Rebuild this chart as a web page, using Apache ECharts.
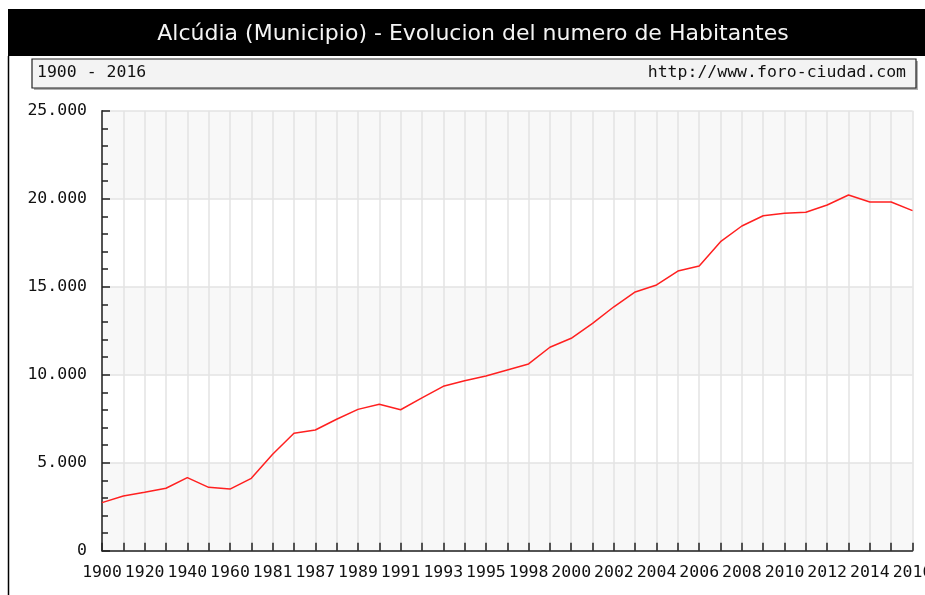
<!DOCTYPE html>
<html>
<head>
<meta charset="utf-8">
<script src="https://cdn.jsdelivr.net/npm/echarts@6/dist/echarts.min.js"></script>
<style>
  html, body { margin: 0; padding: 0; background: #fff; }
  #main { width: 925px; height: 595px; }
</style>
</head>
<body>
<div id="main"></div>
<script>
// years (uneven steps, as in the source)
var years = ['1900', '1910', '1920', '1930', '1940', '1950', '1960', '1970', '1981', '1986',
    '1987', '1988', '1989', '1990', '1991', '1992', '1993', '1994', '1995', '1996',
    '1998', '1999', '2000', '2001', '2002', '2003', '2004', '2005', '2006', '2007',
    '2008', '2009', '2010', '2011', '2012', '2013', '2014', '2015', '2016'];
// habitantes
var habitantes = [2730, 3110, 3320, 3550, 4150, 3600, 3500, 4110, 5480, 6670,
    6860, 7470, 8030, 8320, 8010, 8680, 9340, 9660, 9930, 10270,
    10610, 11560, 12070, 12920, 13860, 14700, 15100, 15890, 16180, 17560,
    18450, 19030, 19170, 19230, 19640, 20210, 19810, 19810, 19320];

var titulo = 'Alcúdia (Municipio) - Evolucion del numero de Habitantes';
var periodo = '1900 - 2016';
var fuente = 'http://www.foro-ciudad.com';

var mono = '"DejaVu Sans Mono", monospace';

var chart = echarts.init(document.getElementById('main'));

function miles(v) {
    if (v === 0) return '0';
    var s = String(v);
    return s.slice(0, s.length - 3) + '.' + s.slice(-3);
}

var option = {
    animation: false,
    backgroundColor: '#fff',
    grid: { left: 102, right: 12.5, top: 110.7, bottom: 44.3, outerBoundsMode: 'none', containLabel: false },
    graphic: [
        { type: 'rect', shape: { x: 8, y: 9, width: 917, height: 47 }, style: { fill: '#000' } },
        { type: 'text', x: 473, y: 23,
          style: { text: titulo, fill: '#f4f4f4', font: '22px "DejaVu Sans", sans-serif', textAlign: 'center' } },
        { type: 'line', shape: { x1: 8.5, y1: 56, x2: 8.5, y2: 595 }, style: { stroke: '#000', lineWidth: 1.5 } },
        { type: 'rect', shape: { x: 34, y: 61, width: 884, height: 29 }, style: { fill: '#b0b0b0' } },
        { type: 'rect', shape: { x: 32, y: 59, width: 884, height: 29 },
          style: { fill: '#f3f3f3', stroke: '#222', lineWidth: 1.2 } },
        { type: 'text', x: 37, y: 64,
          style: { text: periodo, fill: '#111', font: '16.5px ' + mono } },
        { type: 'text', x: 906, y: 64,
          style: { text: fuente, fill: '#111', font: '16.5px ' + mono, textAlign: 'right' } }
    ],
    xAxis: {
        type: 'category',
        data: years,
        boundaryGap: false,
        axisLine: { lineStyle: { color: '#222', width: 1.5 } },
        axisTick: { show: true, inside: true, length: 8, interval: 0, lineStyle: { color: '#222', width: 1.5 } },
        axisLabel: { interval: 1, margin: 14, color: '#111', fontFamily: mono, fontSize: 16.5 },
        splitLine: { show: true, interval: 0, lineStyle: { color: '#e3e3e3', width: 1.5 } }
    },
    yAxis: {
        type: 'value',
        min: 0,
        max: 25000,
        interval: 5000,
        axisLine: { show: true, lineStyle: { color: '#222', width: 1.5 } },
        axisTick: { show: true, inside: true, length: 8, lineStyle: { color: '#222', width: 1.5 } },
        minorTick: { show: true, splitNumber: 5, length: 6, lineStyle: { color: '#222', width: 1.5 } },
        axisLabel: { margin: 15, color: '#111', fontFamily: mono, fontSize: 16.5, formatter: miles },
        splitLine: { show: true, lineStyle: { color: '#e3e3e3', width: 1.5 } },
        splitArea: { show: true, areaStyle: { color: ['#f8f8f8', '#ffffff'] } }
    },
    series: [{
        type: 'line',
        data: habitantes,
        symbol: 'none',
        lineStyle: { color: '#ff2020', width: 1.5 }
    }]
};

chart.setOption(option);
</script>
</body>
</html>
